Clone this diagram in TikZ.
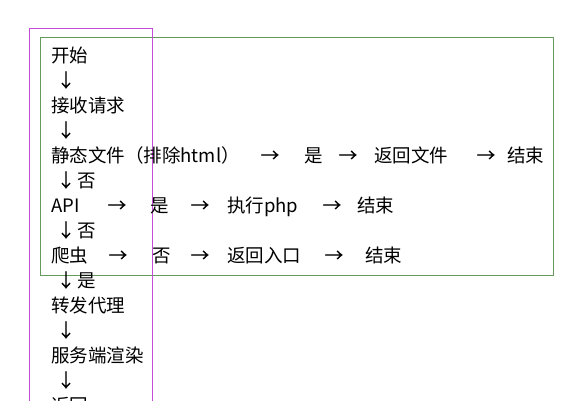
\documentclass[tikz,border=0pt]{standalone}
\usepackage{fontspec}
\setmainfont{Noto Sans CJK SC}[BoldFont=Noto Sans CJK SC,BoldFeatures={FakeBold=0.4}]
\definecolor{frameGreen}{RGB}{100,155,90}
\definecolor{frameMagenta}{RGB}{195,75,215}
\begin{document}
\begin{tikzpicture}[x=1pt,y=-1pt,
  txt/.style={anchor=base west,inner sep=0pt,font=\fontsize{18.5}{20}\selectfont},
  arr/.style={anchor=base,inner sep=0pt,font=\fontsize{18.5}{20}\selectfont\bfseries}]
  \clip (0,0) rectangle (587,400);
  \fill[white] (0,0) rectangle (587,400);

  % frames
  \draw[frameGreen,line width=0.9pt] (40.5,37.5) rectangle (553,275);
  \draw[frameMagenta,line width=0.9pt] (29.5,28.5) rectangle (152,430);

  % main column
  \node[txt] (start)   at (51,62)  {开始};
  \node[txt] (recv)    at (51,112) {接收请求};
  \node[txt] (static)  at (51,162) {静态文件（排除html）};
  \node[txt] (api)     at (51,212) {API};
  \node[txt] (crawler) at (51,262) {爬虫};
  \node[txt] (proxy)   at (51,312) {转发代理};
  \node[txt] (ssr)     at (51,362) {服务端渲染};
  \node[txt] (ret)     at (51,412) {返回};
  \foreach \k in {1,3,5,7,9,11,13}
    \node[arr] (dn\k) at (66,62+25*\k) {↓};
  \node[txt] (no1)  at (77,187) {否};
  \node[txt] (no2)  at (77,237) {否};
  \node[txt] (yes1) at (77,287) {是};

  % static file branch
  \node[arr] (sa1) at (270,162) {→};
  \node[txt] (sy)  at (304,162) {是};
  \node[arr] (sa2) at (348,162) {→};
  \node[txt] (sf)  at (374,162) {返回文件};
  \node[arr] (sa3) at (486,162) {→};
  \node[txt] (se)  at (507,162) {结束};

  % api branch
  \node[arr] (aa1) at (117,212) {→};
  \node[txt] (ay)  at (150,212) {是};
  \node[arr] (aa2) at (200,212) {→};
  \node[txt] (ap)  at (227,212) {执行php};
  \node[arr] (aa3) at (332,212) {→};
  \node[txt] (ae)  at (357,212) {结束};

  % crawler branch
  \node[arr] (ca1) at (118,262) {→};
  \node[txt] (cn)  at (152,262) {否};
  \node[arr] (ca2) at (200,262) {→};
  \node[txt] (ci)  at (227,262) {返回入口};
  \node[arr] (ca3) at (334,262) {→};
  \node[txt] (ce)  at (365,262) {结束};
\end{tikzpicture}
\end{document}
